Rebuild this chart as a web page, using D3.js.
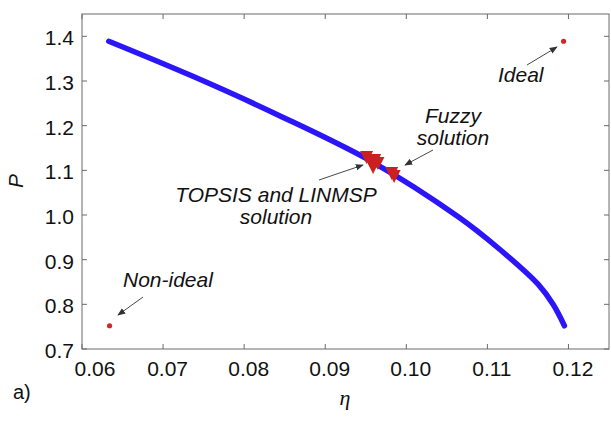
<!DOCTYPE html>
<html>
<head>
<meta charset="utf-8">
<script src="https://cdn.jsdelivr.net/npm/d3@7"></script>
<style>
  body { margin: 0; background: #fff; }
  svg text { font-family: "Liberation Sans", Arial, Helvetica, sans-serif; fill: #111; }
</style>
</head>
<body>
<svg id="chart"></svg>
<script>
// ---------------------------------------------------------------------------
// Data
// ---------------------------------------------------------------------------

// Pareto front (blue band)
const frontEta = [0.0633, 0.0736, 0.0843, 0.0959, 0.1064, 0.1114, 0.1163, 0.1181, 0.1195];
const frontP   = [1.389, 1.311, 1.223, 1.118, 0.996, 0.925, 0.844, 0.800, 0.752];

// ideal / non-ideal points
const idealPoint    = { eta: 0.1194, p: 1.389 };
const nonIdealPoint = { eta: 0.0634, p: 0.752 };

// TOPSIS and LINMSP solutions
const topsisEta = [0.0951, 0.0955, 0.0961, 0.0965, 0.0959];
const topsisP   = [1.1287, 1.1220, 1.1220, 1.1152, 1.1063];

// fuzzy solution
const fuzzyEta = [0.0982, 0.0985];
const fuzzyP   = [1.0928, 1.0861];

const xTicks = [0.06, 0.07, 0.08, 0.09, 0.10, 0.11, 0.12];
const xTickLabels = ["0.06", "0.07", "0.08", "0.09", "0.10", "0.11", "0.12"];
const yTicks = [0.7, 0.8, 0.9, 1.0, 1.1, 1.2, 1.3, 1.4];
const yTickLabels = ["0.7", "0.8", "0.9", "1.0", "1.1", "1.2", "1.3", "1.4"];

// ---------------------------------------------------------------------------
// Layout
// ---------------------------------------------------------------------------

const W = 611, H = 425;

const svg = d3.select("#chart").attr("width", W).attr("height", H);

const x = d3.scaleLinear().domain([0.06, 0.125]).range([82, 609]);
const y = d3.scaleLinear().domain([0.7, 1.45]).range([349, 14]);

const [x0, x1] = x.range();
const [y0, y1] = y.range();

// frame
svg.append("rect")
  .attr("x", x0).attr("y", y1)
  .attr("width", x1 - x0).attr("height", y0 - y1)
  .attr("fill", "none").attr("stroke", "#6a6a6a").attr("stroke-width", 1);

// inward ticks on all four sides
const tickLen = 5;
const ticks = svg.append("g").attr("stroke", "#6a6a6a").attr("stroke-width", 1);
xTicks.forEach(v => {
  ticks.append("line").attr("x1", x(v)).attr("x2", x(v)).attr("y1", y0).attr("y2", y0 - tickLen);
  ticks.append("line").attr("x1", x(v)).attr("x2", x(v)).attr("y1", y1).attr("y2", y1 + tickLen);
});
yTicks.forEach(v => {
  ticks.append("line").attr("x1", x0).attr("x2", x0 + tickLen).attr("y1", y(v)).attr("y2", y(v));
  ticks.append("line").attr("x1", x1).attr("x2", x1 - tickLen).attr("y1", y(v)).attr("y2", y(v));
});

// tick labels
svg.append("g").selectAll("text")
  .data(xTicks)
  .join("text")
  .attr("x", (d, i) => x(d) + (i === 0 ? 13 : 4.5))
  .attr("y", 376)
  .attr("text-anchor", "middle")
  .attr("font-size", 21)
  .text((d, i) => xTickLabels[i]);

svg.append("g").selectAll("text")
  .data(yTicks)
  .join("text")
  .attr("x", 74)
  .attr("y", d => y(d) + 9)
  .attr("text-anchor", "end")
  .attr("font-size", 21)
  .text((d, i) => yTickLabels[i]);

// axis titles
svg.append("text")
  .attr("transform", "translate(23,181) rotate(-90)")
  .attr("text-anchor", "middle")
  .attr("font-size", 21).attr("font-style", "italic")
  .text("P");

svg.append("text")
  .attr("x", 345).attr("y", 405)
  .attr("text-anchor", "middle")
  .attr("font-size", 22).attr("font-style", "italic")
  .style("font-family", "'Liberation Serif', 'Times New Roman', serif")
  .text("η");

svg.append("text")
  .attr("x", 13).attr("y", 399)
  .attr("font-size", 20)
  .text("a)");

// ---------------------------------------------------------------------------
// Marks
// ---------------------------------------------------------------------------

const front = frontEta.map((e, i) => [e, frontP[i]]);
const line = d3.line().x(d => x(d[0])).y(d => y(d[1])).curve(d3.curveCatmullRom);

svg.append("path")
  .datum(front)
  .attr("d", line)
  .attr("fill", "none")
  .attr("stroke", "#2b16fa")
  .attr("stroke-width", 5.5)
  .attr("stroke-linecap", "round");

// ideal / non-ideal
[idealPoint, nonIdealPoint].forEach(pt => {
  svg.append("circle")
    .attr("cx", x(pt.eta)).attr("cy", y(pt.p)).attr("r", 2.6)
    .attr("fill", "#d42626");
});

// down-pointing triangles
function downTriangle(cx, cy, w, h) {
  return `M${cx - w / 2},${cy - h / 2}L${cx + w / 2},${cy - h / 2}L${cx},${cy + h / 2}Z`;
}

const triData = topsisEta.map((e, i) => [e, topsisP[i]])
  .concat(fuzzyEta.map((e, i) => [e, fuzzyP[i]]));

svg.append("g").selectAll("path")
  .data(triData)
  .join("path")
  .attr("d", d => downTriangle(x(d[0]), y(d[1]), 13, 13))
  .attr("fill", "#cc1f1f");

// ---------------------------------------------------------------------------
// Annotations
// ---------------------------------------------------------------------------

const defs = svg.append("defs");
defs.append("marker")
  .attr("id", "arrow")
  .attr("viewBox", "0 0 10 10")
  .attr("refX", 9).attr("refY", 5)
  .attr("markerWidth", 8).attr("markerHeight", 8)
  .attr("markerUnits", "userSpaceOnUse")
  .attr("orient", "auto")
  .append("path")
  .attr("d", "M0,1L10,5L0,9Z")
  .attr("fill", "#333");

function arrow(ax1, ay1, ax2, ay2) {
  svg.append("line")
    .attr("x1", ax1).attr("y1", ay1).attr("x2", ax2).attr("y2", ay2)
    .attr("stroke", "#333").attr("stroke-width", 0.9)
    .attr("marker-end", "url(#arrow)");
}

function label(lines, cx, ty, anchor) {
  const t = svg.append("text")
    .attr("font-size", 21).attr("font-style", "italic")
    .attr("text-anchor", anchor || "middle");
  lines.forEach((s, i) => {
    t.append("tspan").attr("x", cx).attr("y", ty + i * 22).text(s);
  });
}

label(["Ideal"], 498, 82, "start");
arrow(527, 65, 557, 47);

label(["Fuzzy", "solution"], 453, 123);
arrow(433, 150, 405, 165);

label(["TOPSIS and LINMSP", "solution"], 276, 202);
arrow(319, 180, 363, 165);

label(["Non-ideal"], 123, 287, "start");
arrow(143, 297, 118, 315);
</script>
</body>
</html>
